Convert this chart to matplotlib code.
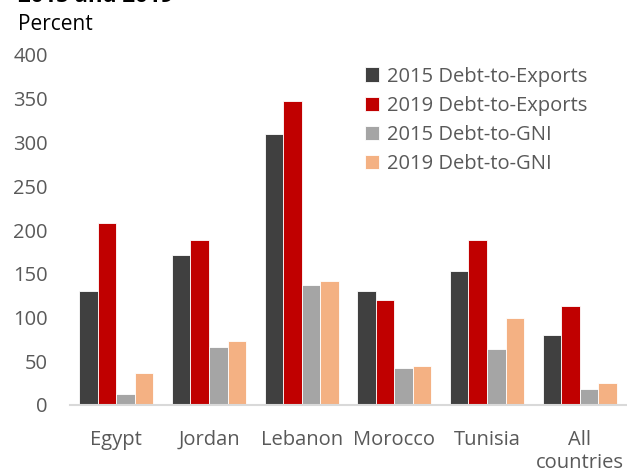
import matplotlib
matplotlib.use("Agg")
import matplotlib.pyplot as plt
import numpy as np

plt.rcParams['font.family'] = ['Open Sans', 'DejaVu Sans']

categories = ["Egypt", "Jordan", "Lebanon", "Morocco", "Tunisia", "All\ncountries"]
series_names = ["2015 Debt-to-Exports", "2019 Debt-to-Exports", "2015 Debt-to-GNI", "2019 Debt-to-GNI"]
exports_2015 = [130, 172, 310, 130, 153, 80]
exports_2019 = [208, 189, 348, 120, 189, 113]
gni_2015 = [13, 66, 137, 42, 64, 18]
gni_2019 = [37, 73, 142, 45, 99, 25]
yticks = [0, 50, 100, 150, 200, 250, 300, 350, 400]
colors = ["#404040", "#C00000", "#A5A5A5", "#F4B183"]

fig = plt.figure(figsize=(6.27, 4.72), dpi=100)
W, H = 627, 472
ax = fig.add_axes([70 / W, 1 - 405 / H, (626 - 70) / W, (405 - 55) / H])

x = np.arange(len(categories))
bw = 0.2
data = [exports_2015, exports_2019, gni_2015, gni_2019]
handles = []
for i, (vals, c, name) in enumerate(zip(data, colors, series_names)):
    b = ax.bar(x + (i - 1.5) * bw, vals, width=bw, color=c, edgecolor='white',
               linewidth=0.6, label=name, zorder=2)
    handles.append(b)

ax.set_xlim(-0.5, 5.5)
ax.set_ylim(0, 400)
ax.set_yticks(yticks)
ax.set_yticklabels([str(t) for t in yticks], fontsize=14.5, color='#595959')
ax.set_xticks(x)
ax.set_xticklabels(categories, fontsize=14.5, color='#595959', linespacing=1.2)
ax.tick_params(axis='both', length=0)
ax.tick_params(axis='y', pad=16)
ax.tick_params(axis='x', pad=18)
for s in ['top', 'right', 'left']:
    ax.spines[s].set_visible(False)
ax.spines['bottom'].set_color('#D9D9D9')
ax.spines['bottom'].set_linewidth(1.5)
ax.spines['bottom'].set_clip_on(False)

leg = ax.legend(handles=handles, loc='upper left', bbox_to_anchor=((357 - 70) / (626 - 70), 0.99),
                frameon=False, fontsize=14.5, handlelength=0.7, handleheight=0.7,
                handletextpad=0.4, labelspacing=0.45, borderaxespad=0)
for t in leg.get_texts():
    t.set_color('#595959')

fig.text(18 / W, 1 - 2 / H, "2015 and 2019", fontsize=16, fontweight='bold',
         ha='left', va='baseline', color='black')
fig.text(18 / W, 1 - 24 / H, "Percent", fontsize=15, ha='left', va='center', color='black')

fig.savefig("out.png", dpi=100)
